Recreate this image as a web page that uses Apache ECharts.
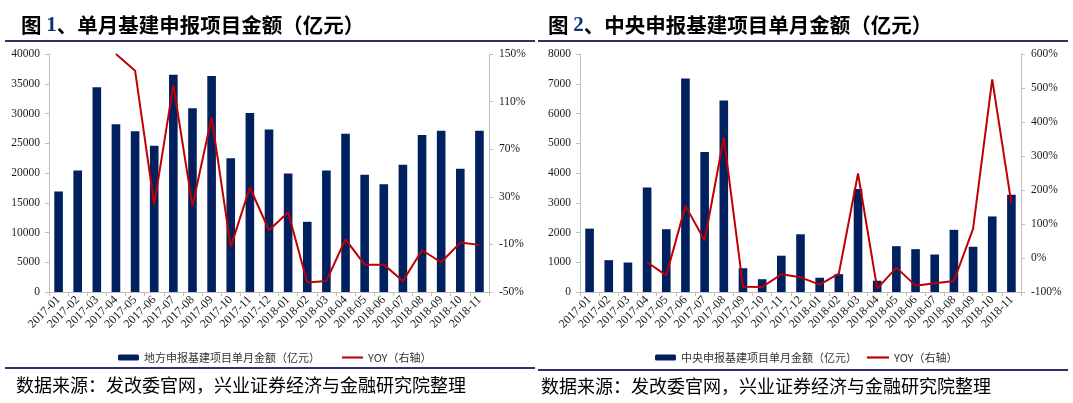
<!DOCTYPE html>
<html><head><meta charset="utf-8">
<script src="https://cdn.jsdelivr.net/npm/echarts@6/dist/echarts.min.js"></script>
<style>html,body{margin:0;padding:0;background:#fff}#c{width:1073px;height:403px}</style>
</head><body><div id="c"></div>
<script>
const categories = ['2017-01','2017-02','2017-03','2017-04','2017-05','2017-06','2017-07','2017-08','2017-09','2017-10','2017-11','2017-12','2018-01','2018-02','2018-03','2018-04','2018-05','2018-06','2018-07','2018-08','2018-09','2018-10','2018-11'];
const localAmount = [16900,20400,34400,28200,27000,24600,36500,30900,36300,22500,30100,27300,19900,11800,20400,26600,19700,18100,21400,26400,27100,20700,27100];
const localYoy = [null,null,null,150,136,23.5,124,22.4,96.7,-12.1,37.8,1.9,17,-42.1,-40.7,-5.7,-27,-27,-40.7,-14.9,-25,-8.5,-10.4];
const centralAmount = [2130,1070,990,3510,2110,7180,4710,6440,800,430,1220,1940,480,600,3460,380,1540,1440,1260,2090,1520,2540,3270];
const centralYoy = [null,null,null,-12.6,-50.9,153.3,51.2,354.5,-84.3,-85.3,-48,-56.8,-78.4,-46,248.5,-90.2,-28.3,-81.3,-74.5,-67.6,85.6,525.4,160.2];
const localYoyTicks = [-50,-10,30,70,110,150];
const localBarName = '地方申报基建项目单月金额（亿元）';
const centralBarName = '中央申报基建项目单月金额（亿元）';
const yoyName = 'YOY（右轴）';
const title1 = ['图 ','1','、单月基建申报项目金额（亿元）'];
const title2 = ['图 ','2','、中央申报基建项目单月金额（亿元）'];
const sourceText = '数据来源：发改委官网，兴业证券经济与金融研究院整理';

const BAR = '#002060', RED = '#c00000', AX = '#bfbfbf', TXT = '#1a1a1a';
const serif = 'Liberation Serif', cjk = 'Noto Sans CJK SC';
const lineIcon = 'path://M0,0L22,0L22,2.2L0,2.2Z';

function xAxis(gi){
  return {type:'category', gridIndex:gi, data:categories,
    axisLine:{lineStyle:{color:AX}}, axisTick:{show:true, length:4, lineStyle:{color:AX}},
    axisLabel:{interval:0, rotate:45, fontFamily:serif, fontSize:12, color:TXT, margin:6}};
}
function yAxis(gi, pos, opts){
  return Object.assign({type:'value', gridIndex:gi, position:pos,
    axisLine:{show:true, lineStyle:{color:AX}}, axisTick:{show:true, length:4, lineStyle:{color:AX}},
    splitLine:{show:false}}, opts);
}
const labelStyle = {fontFamily:serif, fontSize:11.5, color:TXT};
const legendText = {fontFamily:cjk, fontSize:11, color:'#333'};

const chart = echarts.init(document.getElementById('c'));
chart.setOption({
  animation:false,
  title:[
    {left:16, top:10, text:'{a|'+title1[0]+'}{b|'+title1[1]+'}{a|'+title1[2]+'}',
     textStyle:{rich:{a:{fontFamily:cjk, fontWeight:'bold', fontSize:20.5, color:'#000'}, b:{fontFamily:serif, fontWeight:'bold', fontSize:21, color:'#10307a'}}}},
    {left:543, top:10, text:'{a|'+title2[0]+'}{b|'+title2[1]+'}{a|'+title2[2]+'}',
     textStyle:{rich:{a:{fontFamily:cjk, fontWeight:'bold', fontSize:20.5, color:'#000'}, b:{fontFamily:serif, fontWeight:'bold', fontSize:21, color:'#10307a'}}}}
  ],
  grid:[
    {left:49, right:1073-489, top:54, bottom:403-292},
    {left:580, right:1073-1021, top:54, bottom:403-292}
  ],
  legend:[
    {left:113, top:347, itemWidth:21, itemHeight:6, itemGap:22, data:[localBarName, {name:yoyName, icon:lineIcon}], textStyle:legendText},
    {left:650, top:347, itemWidth:21, itemHeight:6, data:[centralBarName], textStyle:legendText},
    {left:862, top:347, itemWidth:22, itemHeight:6, data:[{name:yoyName, icon:lineIcon}], textStyle:legendText}
  ],
  xAxis:[xAxis(0), xAxis(1)],
  yAxis:[
    yAxis(0,'left',{min:0, max:40000, interval:5000, axisLabel:Object.assign({margin:9, formatter:v=>String(v)}, labelStyle)}),
    yAxis(0,'right',{min:-50, max:150,
      axisLabel:Object.assign({margin:10, customValues:localYoyTicks, formatter:v=>v+'%'}, labelStyle),
      axisTick:{show:true, length:4, lineStyle:{color:AX}, customValues:localYoyTicks}}),
    yAxis(1,'left',{min:0, max:8000, interval:1000, axisLabel:Object.assign({margin:9, formatter:v=>String(v)}, labelStyle)}),
    yAxis(1,'right',{min:-100, max:600, interval:100, axisLabel:Object.assign({margin:10, formatter:v=>v+'%'}, labelStyle)})
  ],
  series:[
    {name:localBarName, type:'bar', xAxisIndex:0, yAxisIndex:0, data:localAmount, barWidth:'45%', itemStyle:{color:BAR}},
    {name:yoyName, type:'line', xAxisIndex:0, yAxisIndex:1, data:localYoy, symbol:'none', clip:false, lineStyle:{color:RED, width:2}, itemStyle:{color:RED}},
    {name:centralBarName, type:'bar', xAxisIndex:1, yAxisIndex:2, data:centralAmount, barWidth:'45%', itemStyle:{color:BAR}},
    {name:yoyName, type:'line', xAxisIndex:1, yAxisIndex:3, data:centralYoy, symbol:'none', clip:false, lineStyle:{color:RED, width:2}, itemStyle:{color:RED}}
  ],
  graphic:[
    {type:'line', shape:{x1:5, y1:41, x2:535, y2:41}, style:{stroke:'#2e3070', lineWidth:2}},
    {type:'line', shape:{x1:538, y1:41, x2:1068, y2:41}, style:{stroke:'#2e3070', lineWidth:2}},
    {type:'line', shape:{x1:5, y1:368, x2:535, y2:368}, style:{stroke:'#2e3070', lineWidth:2}},
    {type:'line', shape:{x1:538, y1:370, x2:1068, y2:370}, style:{stroke:'#2e3070', lineWidth:2}},
    {type:'text', left:16, top:376, style:{text:sourceText, fontFamily:cjk, fontSize:18, fill:'#000'}},
    {type:'text', left:541, top:377, style:{text:sourceText, fontFamily:cjk, fontSize:18, fill:'#000'}}
  ]
});
</script></body></html>
